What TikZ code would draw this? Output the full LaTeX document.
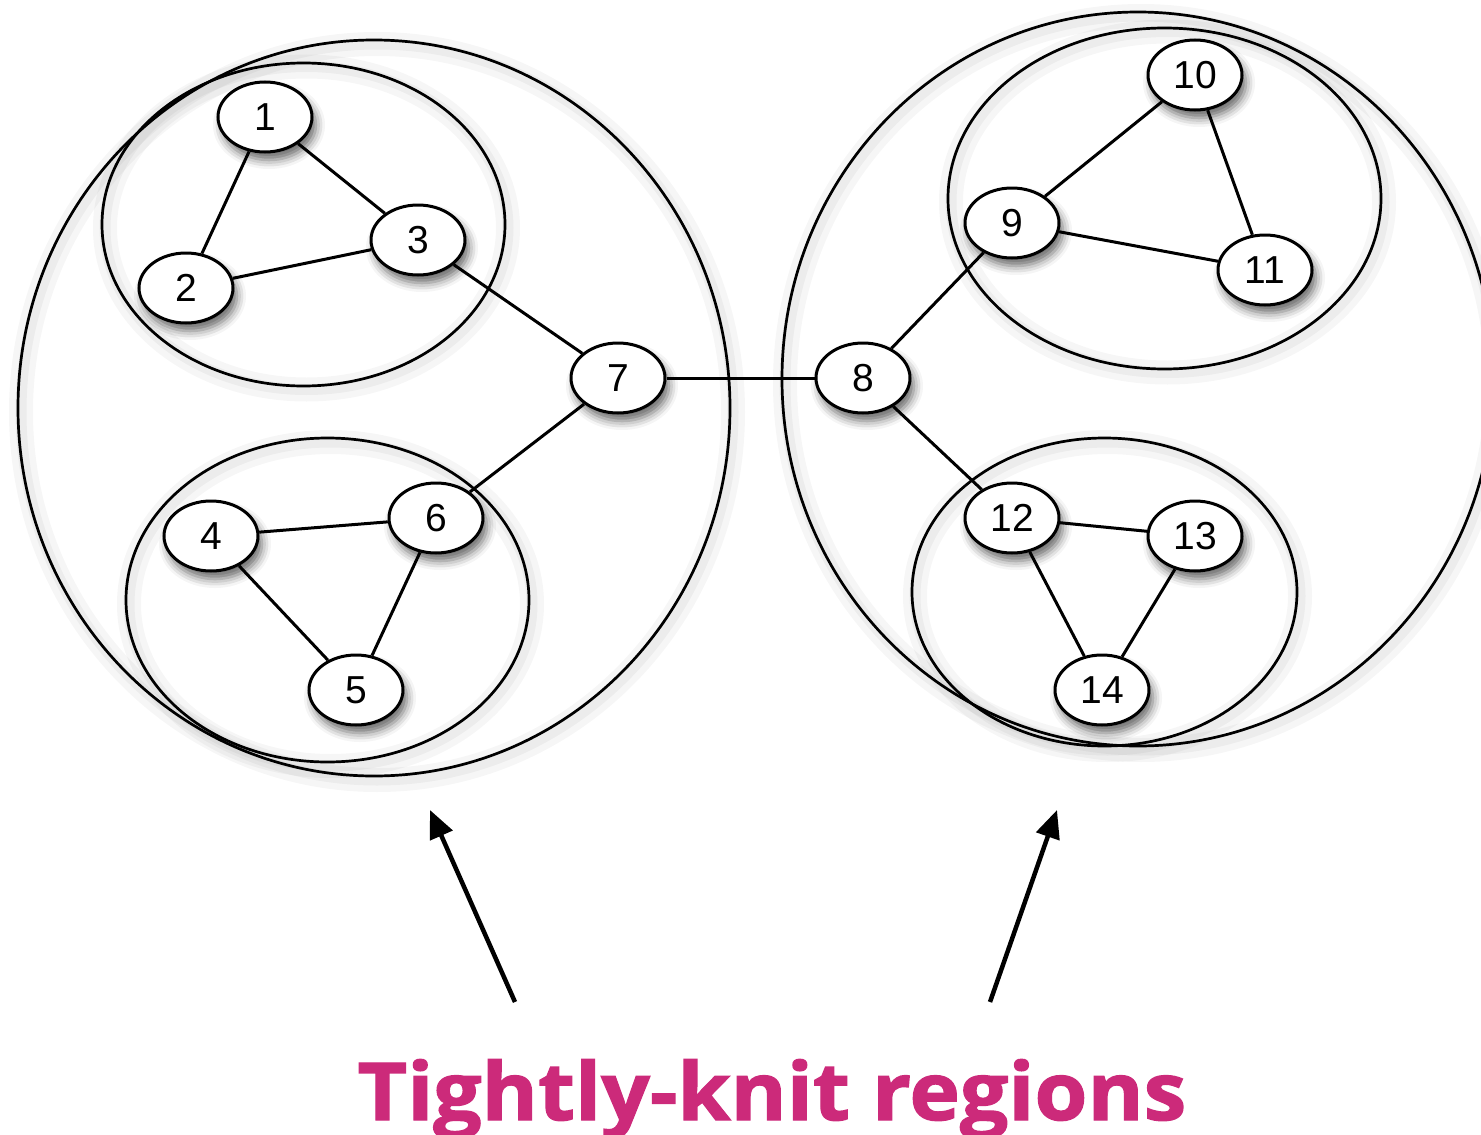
\documentclass[tikz,border=0pt]{standalone}
\usepackage{fontspec}
\setmainfont{Liberation Sans}
\newfontfamily\titlefont{Open Sans}[BoldFeatures={FakeBold=1.6,FakeStretch=1.07}]
\usetikzlibrary{arrows.meta,shadows.blur,shapes.geometric}
\definecolor{titlemag}{RGB}{204,42,122}
\tikzset{
  vnode/.style={ellipse, draw=black, line width=3pt, fill=white, minimum width=94pt, minimum height=70pt, inner sep=0pt,
    font=\fontsize{39}{39}\selectfont,
    blur shadow={shadow xshift=4pt, shadow yshift=-8pt, shadow blur radius=9pt, shadow opacity=60}},
  edge/.style={line width=3pt, draw=black},
  region/.style={line width=2.7pt, draw=black},
  halo/.style={line width=24pt, draw=black, opacity=0.035},
  halo2/.style={line width=11pt, draw=black, opacity=0.04},
  pointer/.style={line width=4.5pt, -{Triangle[length=28pt,width=24pt]}},
}
\begin{document}
\begin{tikzpicture}[x=1pt,y=-1pt]
\useasboundingbox (0,0) rectangle (1481,1135);
% halos
\foreach \cx/\cy/\rx/\ry in {374/412/356/368, 303.5/228/201.5/161.5, 327.5/604/201.5/162, 1138/383/356/367, 1164.5/202/216.5/170.5, 1104.5/596/192.5/154}{
  \draw[halo] (\cx+3,\cy) ellipse [x radius=\rx, y radius=\ry];
  \draw[halo2] (\cx+3,\cy) ellipse [x radius=\rx, y radius=\ry];
}
% regions
\draw[region] (374,408) ellipse [x radius=356, y radius=368];
\draw[region] (303.5,224.5) ellipse [x radius=201.5, y radius=161.5];
\draw[region] (327.5,600) ellipse [x radius=201.5, y radius=162];
\draw[region] (1138,379) ellipse [x radius=356, y radius=367];
\draw[region] (1164.5,198.5) ellipse [x radius=216.5, y radius=170.5];
\draw[region] (1104.5,592) ellipse [x radius=192.5, y radius=154];
% nodes
\node[vnode] (n1) at (265,117) {1};
\node[vnode] (n2) at (186,288) {2};
\node[vnode] (n3) at (418,240) {3};
\node[vnode] (n4) at (211,536) {4};
\node[vnode] (n5) at (356,690) {5};
\node[vnode] (n6) at (436,518) {6};
\node[vnode] (n7) at (618,378) {7};
\node[vnode] (n8) at (863,378) {8};
\node[vnode] (n9) at (1012,223) {9};
\node[vnode] (n10) at (1195,75) {10};
\node[vnode] (n11) at (1265,270) {11};
\node[vnode] (n12) at (1012,518) {12};
\node[vnode] (n13) at (1195,536) {13};
\node[vnode] (n14) at (1102,690) {14};
% edges
\foreach \a/\b in {n1/n2, n1/n3, n2/n3, n3/n7, n7/n6, n4/n6, n4/n5, n6/n5, n7/n8, n8/n9, n9/n10, n9/n11, n10/n11, n8/n12, n12/n13, n12/n14, n13/n14}{
  \draw[edge] (\a) -- (\b);
}
% arrows and title
\coordinate (la) at (515,1002);
\coordinate (lb) at (430,810);
\coordinate (ra) at (990,1002);
\coordinate (rb) at (1057,810);
\draw[pointer] (la) -- (lb);
\draw[pointer] (ra) -- (rb);
\node[anchor=base, text=titlemag, font=\titlefont\bfseries\fontsize{80}{80}\selectfont, inner sep=0pt] (title) at (772,1120) {Tightly-knit regions};
\end{tikzpicture}
\end{document}
